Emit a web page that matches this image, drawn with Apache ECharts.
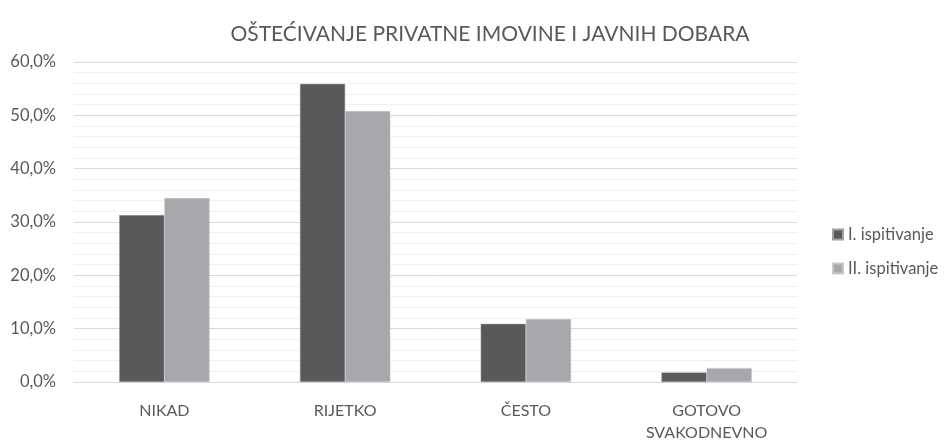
<!DOCTYPE html>
<html>
<head>
<meta charset="utf-8">
<script src="https://cdn.jsdelivr.net/npm/echarts@6/dist/echarts.min.js"></script>
<style>
  html, body { margin: 0; padding: 0; background: #fff; }
  #chart { width: 950px; height: 440px; }
</style>
</head>
<body>
<div id="chart"></div>
<script>
const categories = ['NIKAD', 'RIJETKO', 'ČESTO', 'GOTOVO\nSVAKODNEVNO'];
const seriesNames = ['I. ispitivanje', 'II. ispitivanje'];
const firstSurvey = [31.3, 55.9, 10.9, 1.8];
const secondSurvey = [34.5, 50.8, 11.8, 2.6];

const font = 'Lato, "Open Sans", sans-serif';
const textColor = '#595959';

const chart = echarts.init(document.getElementById('chart'));
chart.setOption({
  backgroundColor: '#fff',
  animation: false,
  title: {
    text: 'OŠTEĆIVANJE PRIVATNE IMOVINE I JAVNIH DOBARA',
    left: 485,
    textAlign: 'center',
    top: 19,
    textStyle: { fontFamily: font, fontSize: 21, fontWeight: 'normal', color: textColor },
  },
  legend: {
    orient: 'vertical',
    left: 827,
    top: 221,
    itemWidth: 10,
    itemHeight: 10,
    itemGap: 17,
    icon: 'rect',
    data: seriesNames,
    textStyle: { fontFamily: font, fontSize: 16.5, color: textColor },
  },
  grid: { left: 74, right: 153, top: 62, bottom: 58, outerBoundsMode: 'none' },
  xAxis: {
    type: 'category',
    data: categories,
    axisLine: { lineStyle: { color: '#d9d9d9' } },
    axisTick: { show: false },
    axisLabel: { fontFamily: font, fontSize: 16, color: textColor, margin: 18, lineHeight: 22 },
  },
  yAxis: {
    type: 'value',
    min: 0,
    max: 60,
    interval: 10,
    axisLabel: {
      fontFamily: font, fontSize: 16.5, color: textColor, margin: 18,
      formatter: (v) => v.toFixed(1).replace('.', ',') + '%',
    },
    splitLine: { lineStyle: { color: '#d9d9d9' } },
    minorTick: { show: false, splitNumber: 5 },
    minorSplitLine: { show: true, lineStyle: { color: '#f0f0f0' } },
  },
  series: [
    {
      name: seriesNames[0],
      type: 'bar',
      data: firstSurvey,
      barGap: '0%',
      barCategoryGap: '50%',
      itemStyle: { color: '#58595b', borderColor: '#a0a0a0', borderWidth: 0.5 },
    },
    {
      name: seriesNames[1],
      type: 'bar',
      data: secondSurvey,
      barGap: '0%',
      barCategoryGap: '50%',
      itemStyle: { color: '#a7a8ab', borderColor: '#c8c8c8', borderWidth: 0.5 },
    },
  ],
});
window.addEventListener('resize', () => {
  chart.resize();
});
</script>
</body>
</html>
